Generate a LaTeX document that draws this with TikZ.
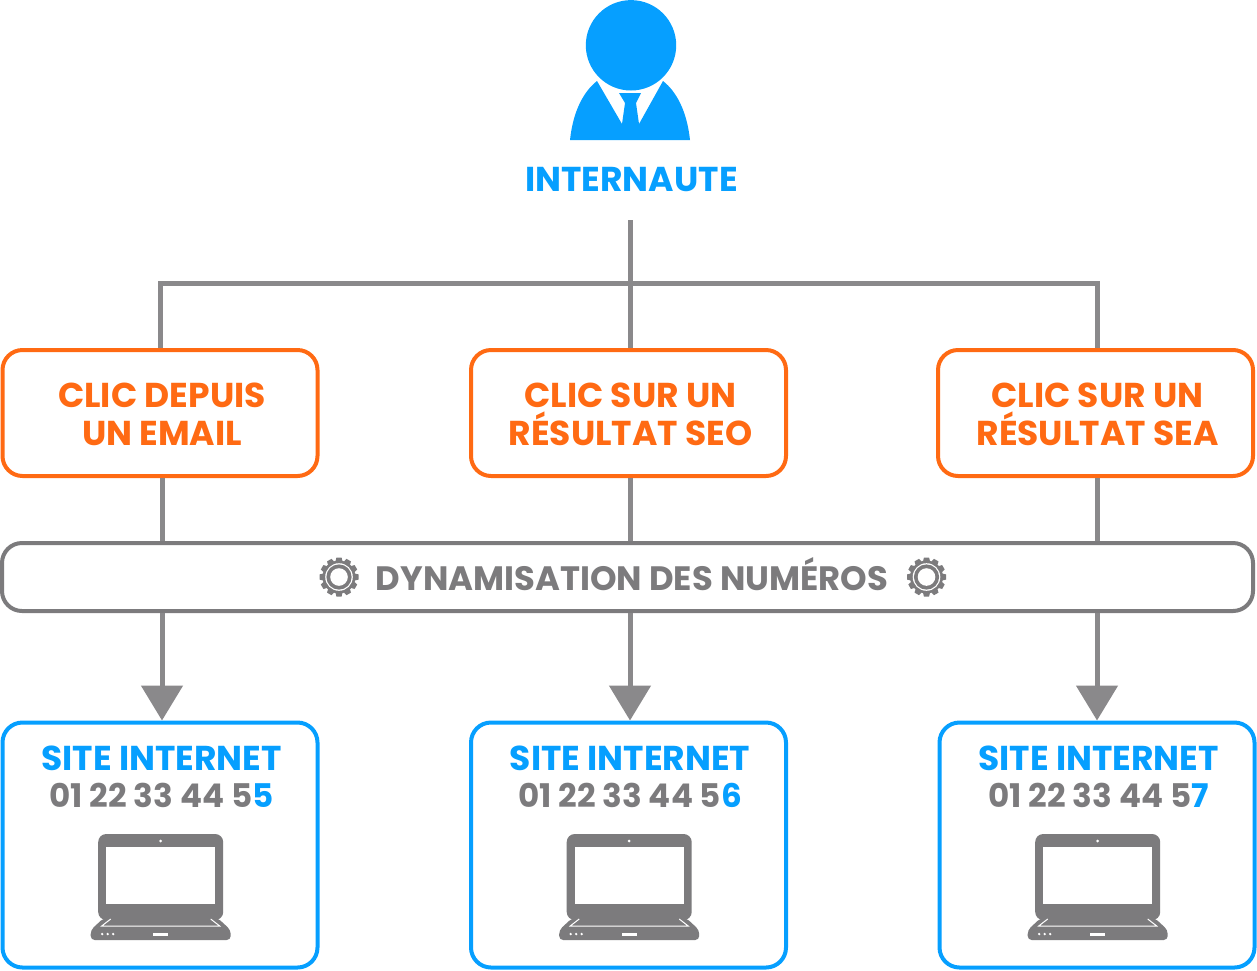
\documentclass[tikz,border=0pt]{standalone}
\usepackage{fontspec}
\setmainfont{Poppins}
\usetikzlibrary{arrows.meta, positioning}
\definecolor{siteblue}{HTML}{069FFF}
\definecolor{clicorange}{HTML}{FF6A13}
\definecolor{wiregray}{HTML}{8A898B}
\definecolor{darkgray}{HTML}{7C7B7D}
\tikzset{
    every node/.style = {
      font=\fontsize{34.5}{37.5}\selectfont\bfseries,
    },
    clic box/.style = {
      draw=clicorange, line width=4pt, rounded corners=20pt, fill=white,
      minimum width=315pt, minimum height=126pt, inner sep=0,
    },
    clic label/.style = {
      align=center, text=clicorange, inner sep=0,
    },
    site box/.style = {
      draw=siteblue, line width=4pt, rounded corners=20pt, fill=white,
      minimum width=315pt, minimum height=245pt, inner sep=0,
    },
    site label/.style = {
      align=center, text=darkgray, inner sep=0,
    },
    wire/.style = {
      wiregray, line width=5pt,
    },
    flow/.style = {
      wire, arrows={-Triangle[width=41pt, length=35pt]},
    },
    laptop/.pic = {
      %% lid, screen, webcam
      \fill [darkgray, rounded corners=8pt] (-62.5,0) rectangle (62.5,86);
      \fill [white] (-54.5,13) rectangle (54.5,70);
      \fill [white] (0,7) circle (1.5pt);
      %% base with its hinge lines, dots and bar
      \fill [darkgray, rounded corners=4pt] (-57,84) -- (-70,96) -- (-70,106) -- (70,106) -- (70,96) -- (57,84) -- cycle;
      \draw [white, line width=1pt] (-50,85) -- (-59,92) -- (59,92) -- (50,85);
      \foreach \k in {-58.5,-53,-47.5}{%
        \fill [white] (\k,100) circle (1.3pt);
      }
      \fill [white] (-7.5,99) rectangle (7.5,101.5);
    },
    gear/.pic = {
      \foreach \a in {0,30,...,330}{%
        \fill [darkgray, rotate=\a] (-3.6,-15) -- (-2.6,-19.5) -- (2.6,-19.5) -- (3.6,-15) -- cycle;
      }
      \fill [darkgray] (0,0) circle (16.5pt);
      \fill [white] (0,0) circle (13.8pt);
      \fill [darkgray] (0,0) circle (12.6pt);
      \fill [white] (0,0) circle (8.8pt);
    },
}

\begin{document}
\begin{tikzpicture}[x=1pt, y=-1pt]
    \useasboundingbox (0,0) rectangle (1257,970);

    %% The visitor
    \fill [siteblue] (631,45.3) circle (45.2pt);
    \fill [siteblue] (570,140) .. controls (573,112) and (583,92) .. (597,81) -- (622,124) -- (625,103)
      -- (619,93) -- (641,93) -- (636,103) -- (639,124) -- (663,81)
      .. controls (677,92) and (687,112) .. (690,140) -- cycle;
    \node [text=siteblue, inner sep=0] (visitor) at (631.5,180) {INTERNAUTE};

    %% Draw the three sources and the three sites
    \foreach \i/\x/\first/\second in {1/160/CLIC DEPUIS/UN EMAIL, 2/628.5/CLIC SUR UN/RÉSULTAT SEO, 3/1095.5/CLIC SUR UN/RÉSULTAT SEA}{%
      \node [clic box] (clic\i) at (\x,413) {};
      \node [clic label, xshift=2pt, below=35pt of clic\i.north] (cliclabel\i) {\first\\\second};
    }
    \foreach \i/\x/\last in {1/160/5, 2/628.5/6, 3/1097/7}{%
      \node [site box] (site\i) at (\x,845) {};
      \node [site label, xshift=1.5pt, below=25pt of site\i.north] (label\i)
        {\textcolor{siteblue}{SITE INTERNET}\\{\fontsize{32.6}{37.5}\selectfont 01 22 33 44 5\textcolor{siteblue}{\last}}};
      \pic at ([xshift=0.7pt] \x,834) {laptop};
    }

    %% The bar across the middle
    \node [draw=darkgray, line width=4pt, rounded corners=20pt, fill=white, minimum width=1251pt,
      minimum height=68pt, inner sep=0] (bar) at (627.5,577) {};
    \node [text=darkgray, inner sep=0, font=\fontsize{33.8}{37.5}\selectfont\bfseries] (barlabel) at (632,574.5) {DYNAMISATION DES NUMÉROS};
    \pic at (339,577) {gear};
    \pic at (926.5,577) {gear};

    %% Connect the visitor to the sources
    \coordinate (stem) at (630,220);
    \coordinate (branch) at (630,283);
    \coordinate (column1) at (162,0);
    \coordinate (column2) at (630,0);
    \coordinate (column3) at (1097,0);
    \draw [wire] (stem) -- (clic2.north -| stem);
    \draw [wire, line join=miter] (clic1.north) -- (clic1.north |- branch) -- (column3 |- branch) -- (column3 |- clic3.north);

    %% Connect the sources to the sites through the bar
    \foreach \i in {1,2,3}{%
      \draw [wire] (column\i |- clic\i.south) -- (column\i |- bar.north);
      \draw [flow] (column\i |- bar.south) -- (column\i |- site\i.north);
    }
  \end{tikzpicture}
\end{document}
